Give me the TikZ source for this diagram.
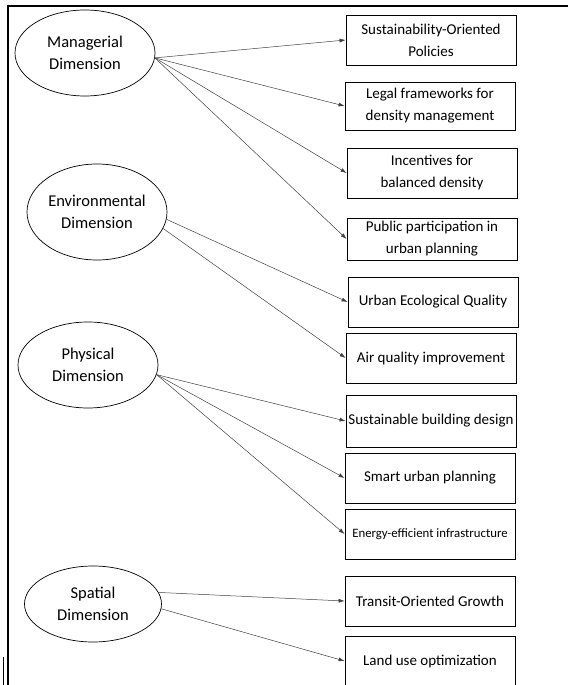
\documentclass[tikz,border=0pt]{standalone}
\usepackage{fontspec}
\setmainfont{Carlito}
\usetikzlibrary{shapes.geometric,arrows.meta}

\begin{document}
\begin{tikzpicture}[x=1pt,y=-1pt,
  dim/.style={ellipse, draw, line width=0.7pt, minimum width=140pt, minimum height=86pt, inner sep=0pt, align=center, font=\fontsize{16.5}{22}\selectfont},
  item/.style={rectangle, draw, line width=0.8pt, minimum width=170pt, minimum height=50pt, inner sep=2pt, align=center, font=\fontsize{15}{22}\selectfont},
  arr/.style={draw=black!75, line width=0.5pt, -{Latex[length=6pt,width=4pt]}}]
\useasboundingbox (0,0) rectangle (568,685);
\clip (0,0) rectangle (568,685);

\draw[line width=1.2pt] (568,6) -- (8,6) -- (8,685);
\draw[line width=0.8pt] (3,657) -- (3,685);

\node[dim]                    (man) at (85,53)  {Managerial\\Dimension};
\node[dim,minimum height=96pt] (env) at (97,212) {Environmental\\Dimension};
\node[dim]                    (phy) at (88,365) {Physical\\Dimension};
\node[dim,minimum height=76pt,minimum width=137pt] (spa) at (93,604) {Spatial\\Dimension};

\node[item] (m1) at (431,40)  {Sustainability-Oriented\\Policies};
\node[item,minimum height=48pt] (m2) at (430,106) {Legal frameworks for\\density management};
\node[item] (m3) at (432,173) {Incentives for\\balanced density};
\node[item,minimum height=42pt] (m4) at (432,239) {Public participation in\\urban planning};
\node[item] (e1) at (433,302) {Urban Ecological Quality};
\node[item] (e2) at (431,358) {Air quality improvement};
\node[item,minimum height=52pt] (p1) at (431,421) {Sustainable building design};
\node[item] (p2) at (430,478) {Smart urban planning};
\node[item,font=\fontsize{12.8}{15}\selectfont] (p3) at (430,534) {Energy-efficient infrastructure};
\node[item] (s1) at (430,601) {Transit-Oriented Growth};
\node[item] (s2) at (430,661) {Land use optimization};

\draw[arr] (man.-4) -- (m1.west);
\draw[arr] (man.-4) -- (m2.west);
\draw[arr] (man.-4) -- (m3.west);
\draw[arr] (man.-4) -- (m4.west);

\draw[arr] (env.-6) -- (e1.west);
\draw[arr] (env.-14) -- (e2.west);

\draw[arr] (phy.-8) -- (p1.west);
\draw[arr] (phy.-8) -- (p2.west);
\draw[arr] (phy.-8) -- (p3.west);

\draw[arr] (spa.10) -- (s1.west);
\draw[arr] (spa.-4) -- (s2.west);
\end{tikzpicture}
\end{document}
